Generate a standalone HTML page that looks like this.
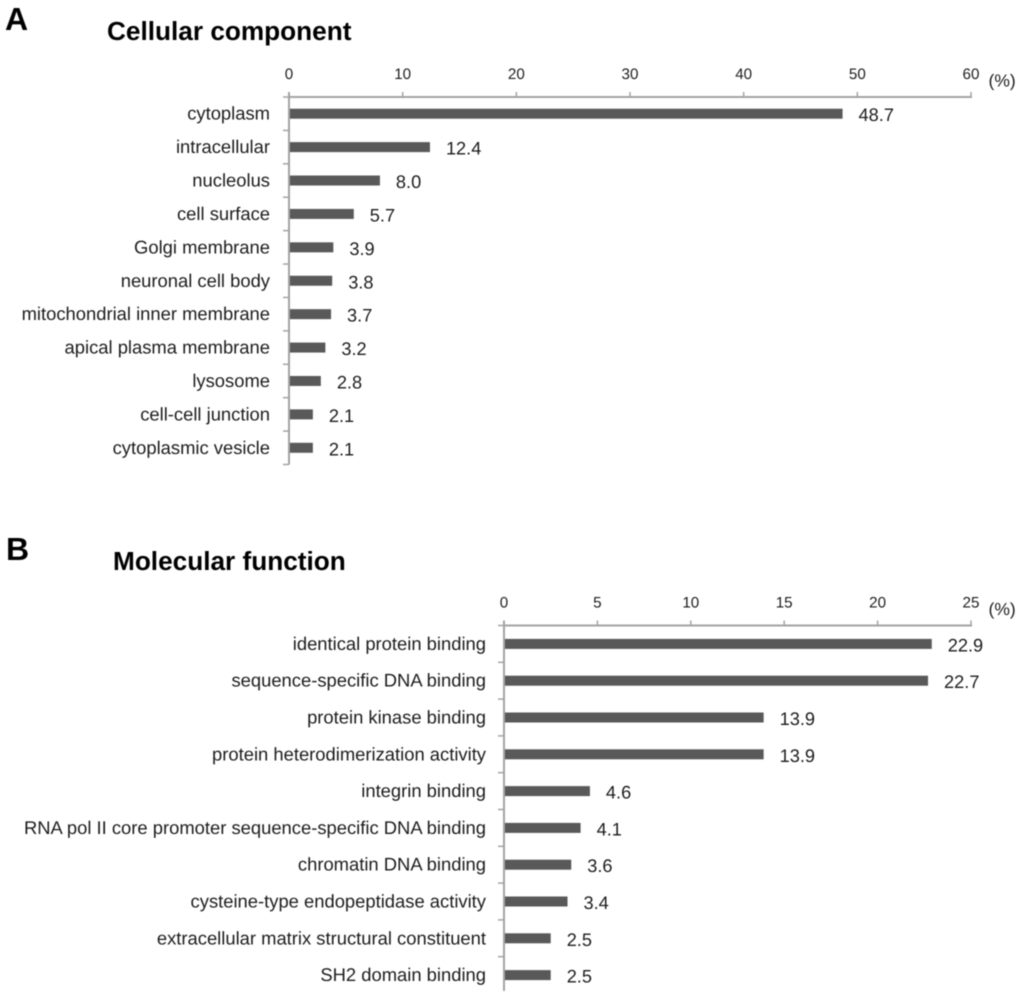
<!DOCTYPE html>
<html>
<head>
<meta charset="utf-8">
<style>
html,body{margin:0;padding:0;background:#fff;width:1024px;height:1002px;overflow:hidden}
svg{display:block;filter:blur(0.45px)}
text{font-family:"Liberation Sans",Arial,sans-serif;fill:#1c1c1c;text-rendering:geometricPrecision}
.title{font-weight:bold;font-size:26.2px;fill:#000}
.panel{font-weight:bold;font-size:32px;fill:#000}
.tick{font-size:15.2px;text-anchor:middle}
.cat{font-size:18.4px;text-anchor:end}
.val{font-size:18.2px}
.unit{font-size:17.5px}
</style>
</head>
<body>
<svg id="figure" xmlns="http://www.w3.org/2000/svg" width="1024" height="1002" viewBox="0 0 1024 1002">
<rect width="1024" height="1002" fill="#fff"/>
<text class="panel" x="5" y="30">A</text>
<text class="title" x="107" y="40">Cellular component</text>
<text class="panel" x="6" y="560">B</text>
<text class="title" x="113" y="570">Molecular function</text>
</svg>
<script>
const categoriesA = ["cytoplasm","intracellular","nucleolus","cell surface","Golgi membrane","neuronal cell body","mitochondrial inner membrane","apical plasma membrane","lysosome","cell-cell junction","cytoplasmic vesicle"];
const valuesA = [48.7,12.4,8.0,5.7,3.9,3.8,3.7,3.2,2.8,2.1,2.1];
const ticksA = [0,10,20,30,40,50,60];

const categoriesB = ["identical protein binding","sequence-specific DNA binding","protein kinase binding","protein heterodimerization activity","integrin binding","RNA pol II core promoter sequence-specific DNA binding","chromatin DNA binding","cysteine-type endopeptidase activity","extracellular matrix structural constituent","SH2 domain binding"];
const valuesB = [22.9,22.7,13.9,13.9,4.6,4.1,3.6,3.4,2.5,2.5];
const ticksB = [0,5,10,15,20,25];

const svg = document.getElementById('figure');
const NS = 'http://www.w3.org/2000/svg';

function make(tag, attrs, text) {
  const el = document.createElementNS(NS, tag);
  for (const k in attrs) el.setAttribute(k, attrs[k]);
  if (text !== undefined) el.textContent = text;
  svg.appendChild(el);
  return el;
}

function drawChart(prefix, cats, vals, ticks, g) {
  const x = v => g.left + (v - ticks[0]) / (ticks[ticks.length - 1] - ticks[0]) * (g.right - g.left);
  const band = (g.bottom - g.top) / cats.length;
  const y = i => g.top + band * (i + 0.5);

  const xAxis = make('line', {x1: x(ticks[0]) - 1, x2: x(ticks[ticks.length - 1]) + 1, y1: g.top, y2: g.top, stroke: '#a3a3a3', 'stroke-width': 2});
  
  

  const yAxis = make('line', {x1: g.left, x2: g.left, y1: g.top - 5, y2: g.axisEnd, stroke: '#a3a3a3', 'stroke-width': 2});
  
  

  ticks.forEach(t => {
    const mark = make('line', {x1: x(t), x2: x(t), y1: g.top - 5, y2: g.top, stroke: '#a3a3a3', 'stroke-width': 1.5});
    
    
    const label = make('text', {class: 'tick', x: x(t), y: g.top - 18}, String(t));
    
    
  });

  const tickCount = g.lastTick ? cats.length + 1 : cats.length;
  for (let i = 0; i < tickCount; i++) {
    const yt = g.top + band * i;
    const mark = make('line', {x1: g.left - 6, x2: g.left, y1: yt, y2: yt, stroke: '#a3a3a3', 'stroke-width': 1.5});
    
    
  }

  cats.forEach((c, i) => {
    const cat = make('text', {class: 'cat', x: g.labelX, y: y(i) + 6}, c);
    
    

    const bar = make('rect', {x: x(0) + 1, y: y(i) - 5, width: x(vals[i]) - x(0) - 1, height: 10, fill: '#595959'});
    
    

    const val = make('text', {class: 'val', x: x(vals[i]) + 16, y: y(i) + 7.5}, vals[i].toFixed(1));
    
    
  });

  const unit = make('text', {class: 'unit', x: g.right + 17.5, y: g.top - 10.5}, '(%)');
  
  
}

drawChart('cellular', categoriesA, valuesA, ticksA, {left: 289, right: 971, top: 97, bottom: 464.5, axisEnd: 464.5, labelX: 270, lastTick: true});
drawChart('molecular', categoriesB, valuesB, ticksB, {left: 504, right: 971, top: 625.5, bottom: 993.5, axisEnd: 991, labelX: 486, lastTick: false});
</script>
</body>
</html>
